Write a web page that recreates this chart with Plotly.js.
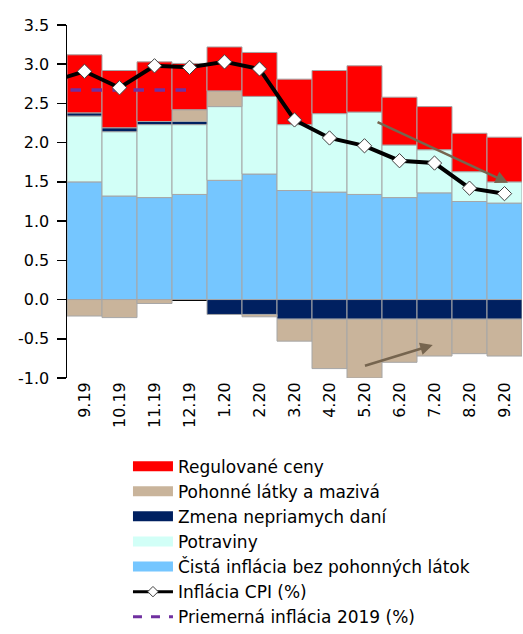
<!DOCTYPE html>
<html>
<head>
<meta charset="utf-8">
<script src="https://cdn.plot.ly/plotly-3.0.1.min.js"></script>
<style>html,body{margin:0;padding:0;background:#fff;}#chart{width:523px;height:634px;}</style>
</head>
<body>
<div id="chart"></div>
<script>
// categories (first one lies just outside the visible range; only its CPI point is known)
var months = ['8.19','9.19','10.19','11.19','12.19','1.20','2.20','3.20','4.20','5.20','6.20','7.20','8.20','9.20'];

// stacked components (percentage points)
var coreInfl   = [null,1.50,1.32,1.30,1.34,1.52,1.60,1.39,1.37,1.34,1.30,1.36,1.25,1.23];
var food       = [null,0.84,0.82,0.93,0.89,0.94,0.99,0.84,1.00,1.05,0.67,0.55,0.38,0.27];
var taxChange  = [null,0.04,0.05,0.04,0.04,-0.19,-0.19,-0.25,-0.25,-0.25,-0.25,-0.25,-0.25,-0.25];
var fuel       = [null,-0.21,-0.23,-0.05,0.15,0.20,-0.03,-0.28,-0.63,-0.75,-0.55,-0.47,-0.44,-0.47];
var regulated  = [null,0.74,0.73,0.76,0.59,0.56,0.56,0.58,0.55,0.59,0.61,0.55,0.49,0.57];

// lines
var cpi        = [2.77,2.91,2.70,2.98,2.96,3.03,2.94,2.29,2.06,1.96,1.77,1.74,1.42,1.35];
var avg2019    = [2.67,2.67,2.67,2.67,2.67,null,null,null,null,null,null,null,null,null];

var yTickVals  = [-1,-0.5,0,0.5,1,1.5,2,2.5,3,3.5];
var yTickText  = ['-1.0','-0.5','0.0','0.5','1.0','1.5','2.0','2.5','3.0','3.5'];

var names = ['Regulované ceny','Pohonné látky a mazivá','Zmena nepriamych daní','Potraviny','Čistá inflácia bez pohonných látok','Inflácia CPI (%)','Priemerná inflácia 2019 (%)'];
var colors = {reg:'#FF0000', fuel:'#C9B49B', tax:'#002060', food:'#D2FFF7', core:'#75C6FF', cpi:'#000000', avg:'#7030A0'};

var xIdx = months.map(function(m,i){return i;});
var visLabels = months.slice(1);
var visIdx = xIdx.slice(1);
var boundaries = visIdx.map(function(i){return i-0.5;}).concat([visIdx[visIdx.length-1]+0.5]);

var edge = {color:'#A6A6A6', width:1};
function barTrace(y, name, color){
  return {type:'bar', x:xIdx, y:y, name:name, marker:{color:color, line:edge}, showlegend:false, hoverinfo:'skip'};
}
function legendProxy(name, color){
  return {type:'scatter', mode:'lines', x:[null], y:[null], name:name, line:{color:color, width:10}, showlegend:true, hoverinfo:'skip'};
}

var traces = [
  barTrace(coreInfl, names[4], colors.core),
  barTrace(food, names[3], colors.food),
  barTrace(taxChange, names[2], colors.tax),
  barTrace(fuel, names[1], colors.fuel),
  barTrace(regulated, names[0], colors.reg),
  {type:'scatter', mode:'lines', x:xIdx, y:avg2019, name:names[6], line:{color:colors.avg, width:3.5, dash:'dash'}, showlegend:false, hoverinfo:'skip'},
  {type:'scatter', mode:'lines+markers', x:xIdx, y:cpi, name:names[5], line:{color:colors.cpi, width:4}, marker:{symbol:'diamond', size:11, color:'#FFFFFF', line:{color:'#404040', width:1}}, showlegend:false, hoverinfo:'skip'},
  legendProxy(names[0], colors.reg),
  legendProxy(names[1], colors.fuel),
  legendProxy(names[2], colors.tax),
  legendProxy(names[3], colors.food),
  legendProxy(names[4], colors.core),
  {type:'scatter', mode:'lines+markers', x:[null], y:[null], name:names[5], line:{color:colors.cpi, width:3}, marker:{symbol:'diamond', size:8, color:'#FFFFFF', line:{color:'#404040', width:1}}, showlegend:true, hoverinfo:'skip'},
  {type:'scatter', mode:'lines', x:[null], y:[null], name:names[6], line:{color:colors.avg, width:3, dash:'dash'}, showlegend:true, hoverinfo:'skip'}
];

var font = {family:'"DejaVu Sans", Verdana, sans-serif', size:15, color:'#000000'};
var xRange = [visIdx[0]-0.5, visIdx[visIdx.length-1]+0.5];
var yRange = [-1, 3.5];

var arrowColor = '#76654F';
var layout = {
  width:523, height:634,
  margin:{l:67, r:1, t:25, b:256, autoexpand:false},
  paper_bgcolor:'#FFFFFF', plot_bgcolor:'#FFFFFF',
  barmode:'relative', bargap:0,
  font:font,
  showlegend:true,
  legend:{x:0.134, y:-0.2, xanchor:'left', yanchor:'top', font:{family:font.family, size:17, color:'#000'}, traceorder:'normal', bgcolor:'rgba(0,0,0,0)', itemwidth:40},
  xaxis:{range:xRange, tickmode:'array', tickvals:visIdx, ticktext:visLabels, tickangle:-90, showline:false, showgrid:false, zeroline:false, ticks:'', tickfont:{family:font.family, size:16, color:'#000'}, fixedrange:true},
  xaxis2:{overlaying:'x', anchor:'free', position:(0-yRange[0])/(yRange[1]-yRange[0]), range:xRange, tickmode:'array', tickvals:boundaries, ticks:'outside', ticklen:5, tickwidth:2, tickcolor:'#000', showticklabels:false, showline:false, showgrid:false, zeroline:false},
  yaxis:{range:yRange, tickmode:'array', tickvals:yTickVals, ticktext:yTickText, showline:true, linecolor:'#000', linewidth:1.5, ticks:'outside', ticklen:9, tickwidth:1.5, tickcolor:'#000', showgrid:false, zeroline:true, zerolinecolor:'#000', zerolinewidth:3, tickfont:{family:font.family, size:16, color:'#000'}, ticklabelstandoff:4},
  annotations:[
    {x:13.1, y:1.49, ax:9.33, ay:2.27, xref:'x', yref:'y', axref:'x', ayref:'y', showarrow:true, arrowhead:2, arrowsize:1, arrowwidth:2.5, arrowcolor:arrowColor, text:''},
    {x:10.95, y:-0.58, ax:8.97, ay:-0.85, xref:'x', yref:'y', axref:'x', ayref:'y', showarrow:true, arrowhead:2, arrowsize:1, arrowwidth:2.5, arrowcolor:arrowColor, text:''}
  ]
};

Plotly.newPlot('chart', traces, layout, {displayModeBar:false, staticPlot:true});
</script>
</body>
</html>
